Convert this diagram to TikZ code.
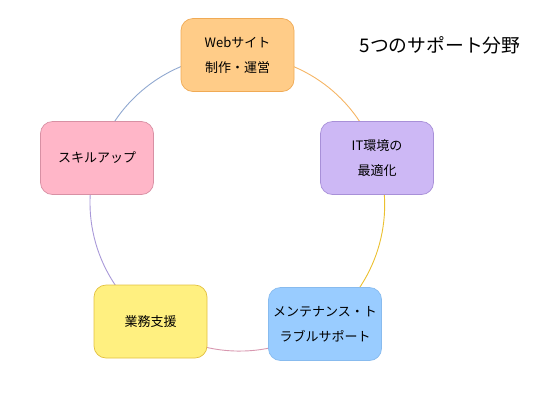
\documentclass[tikz,border=0pt]{standalone}
\usepackage{fontspec}
\setmainfont{Noto Sans CJK JP}
\usetikzlibrary{backgrounds}
\definecolor{webfill}{HTML}{FFCC88}\definecolor{webdraw}{HTML}{F0AA55}
\definecolor{itfill}{HTML}{CDB8F5}\definecolor{itdraw}{HTML}{A890D8}
\definecolor{mtfill}{HTML}{99CCFF}\definecolor{mtdraw}{HTML}{88BBEE}
\definecolor{gyfill}{HTML}{FFF080}\definecolor{gydraw}{HTML}{E2C040}
\definecolor{skfill}{HTML}{FFB6C8}\definecolor{skdraw}{HTML}{D890A4}
\definecolor{arcA}{HTML}{F5B565}\definecolor{arcB}{HTML}{EBC030}
\definecolor{arcC}{HTML}{D898B0}\definecolor{arcD}{HTML}{A898D8}
\definecolor{arcE}{HTML}{90A8D0}
\tikzset{
  field/.style={rounded corners=12pt, minimum width=113pt, minimum height=73pt,
    inner sep=0pt, align=center, font=\fontsize{13pt}{25pt}\selectfont, line width=0.7pt},
  ring/.style={line width=0.9pt, looseness=0.94}
}
\begin{document}
\begin{tikzpicture}[x=1pt,y=-1pt]
\useasboundingbox (0,0) rectangle (545,400);
\node[field, fill=webfill, draw=webdraw] (web) at (237.5,55) {Webサイト\\制作・運営};
\node[field, fill=itfill, draw=itdraw] (it) at (377,158) {IT環境の\\最適化};
\node[field, fill=mtfill, draw=mtdraw] (mt) at (325,324) {メンテナンス・ト\\ラブルサポート};
\node[field, fill=gyfill, draw=gydraw] (gy) at (150.5,321.5) {業務支援};
\node[field, fill=skfill, draw=skdraw] (sk) at (97,158) {スキルアップ};
\node[font=\fontsize{18.8pt}{20pt}\selectfont] (title) at (440,45) {5つのサポート分野};
\begin{scope}[on background layer]
\draw[ring, draw=arcA] (web.center) to[bend left=36] (it.center);
\draw[ring, draw=arcB] (it.center) to[bend left=36] (mt.center);
\draw[ring, draw=arcC] (mt.center) to[bend left=36] (gy.center);
\draw[ring, draw=arcD] (gy.center) to[bend left=36] (sk.center);
\draw[ring, draw=arcE] (sk.center) to[bend left=36] (web.center);
\end{scope}
\end{tikzpicture}
\end{document}
